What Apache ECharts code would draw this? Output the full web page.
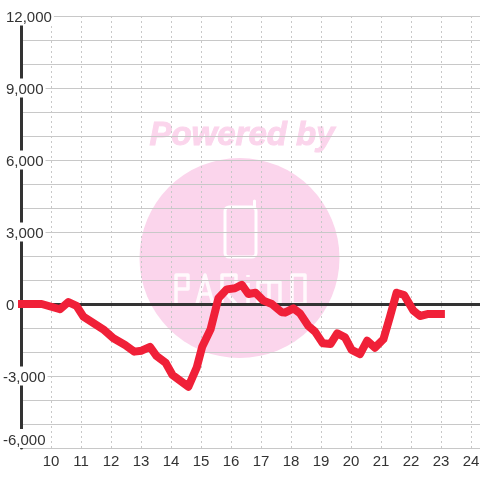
<!DOCTYPE html>
<html><head><meta charset="utf-8">
<style>html,body{margin:0;padding:0;background:#fff}#c{width:480px;height:480px}</style>
<script src="https://cdn.jsdelivr.net/npm/echarts@6/dist/echarts.min.js"></script>
</head><body><div id="c"></div>
<script>
var hours=[8.9,9.69,10.3,10.58,10.85,11.08,11.74,12.08,12.47,12.78,13.02,13.3,13.52,13.82,14.05,14.58,14.86,15.04,15.32,15.58,15.86,16.13,16.36,16.58,16.82,17.08,17.36,17.69,17.8,18.08,18.3,18.58,18.8,19.06,19.32,19.54,19.8,20.02,20.3,20.54,20.8,21.08,21.3,21.52,21.77,22.08,22.3,22.58,23.13];
var values=[0,0,-220,80,-80,-530,-1055,-1430,-1710,-1985,-1945,-1790,-2170,-2445,-2960,-3445,-2640,-1780,-1055,240,610,655,800,415,470,140,0,-345,-360,-180,-390,-915,-1150,-1640,-1665,-1220,-1390,-1915,-2085,-1530,-1820,-1470,-530,470,375,-280,-500,-415,-415];
var watermarkTitle='Powered by';
var pink='#fbd5ec';
var letters=[
 [[176,304],[176,275],[188,275],[188,289],[176,289]],
 [[197,304],[205,275],[213,304]],[[200,294],[210,294]],
 [[222,304],[222,275],[236,275],[236,288],[222,288],[236,304]],
 [[248,304],[248,283]],[[248,275],[248,277]],
 [[258,304],[258,282],[280,282],[280,304]],[[269,282],[269,304]],
 [[292,304],[292,275],[305,275],[305,304],[292,304]]
];
var chart=echarts.init(document.getElementById('c'),null,{renderer:'canvas'});
chart.setOption({
 animation:false,backgroundColor:'#fff',
 grid:{left:21,top:16,width:459,height:432,containLabel:false,outerBoundsMode:'none'},
 graphic:{elements:[
  {type:'circle',z:-10,silent:true,shape:{cx:239.5,cy:258,r:100},style:{fill:pink}},
  {type:'text',z:-10,silent:true,x:242,y:135.5,style:{text:watermarkTitle,fill:pink,stroke:pink,lineWidth:1,font:'italic bold 33px "Liberation Sans"',align:'center',verticalAlign:'middle'}},
  {type:'rect',z:-9,silent:true,shape:{x:225,y:207,width:31,height:50,r:4},style:{fill:'transparent',stroke:'#fff',lineWidth:3}},
  {type:'line',z:-9,silent:true,shape:{x1:254.5,y1:201,x2:254.5,y2:208},style:{stroke:'#fff',lineWidth:3,lineCap:'round'}}
 ].concat(letters.map(function(p){return {type:'polyline',z:-9,silent:true,shape:{points:p},style:{fill:'transparent',stroke:'#fff',opacity:0.85,lineWidth:3.5,lineJoin:'round'}};}))},
 xAxis:{
  type:'value',min:9,max:24.3,interval:1,
  axisLine:{show:false},axisTick:{show:false},
  splitLine:{show:true,lineStyle:{color:'#c8c8c8',width:1,type:[2,3]}},
  axisLabel:{color:'#333',fontSize:15,fontFamily:'"Liberation Sans"',margin:6,showMinLabel:false,showMaxLabel:false}
 },
 yAxis:{
  type:'value',min:-6000,max:12000,interval:1000,
  axisLine:{show:true,onZero:false,lineStyle:{color:'#333',width:3}},
  axisTick:{show:false},
  splitLine:{show:true,lineStyle:{color:'#c8c8c8',width:1}},
  axisLabel:{inside:true,margin:-18,align:'left',color:'#333',fontSize:15,fontFamily:'"Liberation Sans"',
   backgroundColor:'#fff',padding:[4,2,0,0],verticalAlignMinLabel:'bottom',
   formatter:function(v){
    if(v%3000!==0)return '';
    var s=Math.abs(v).toLocaleString('en-US');
    return v<0?'-'+s:'{p|'+s+'}';
   },
   rich:{p:{padding:[0,0,0,3],color:'#333',fontSize:15,fontFamily:'"Liberation Sans"'}}
  }
 },
 series:[{
  type:'line',data:hours.map(function(h,i){return [h,values[i]];}),
  clip:false,symbol:'none',smooth:false,z:5,
  lineStyle:{color:'#f02038',width:8,join:'round',cap:'butt'},
  markLine:{silent:true,z:2,symbol:'none',label:{show:false},animation:false,
   lineStyle:{color:'#333',width:3,type:'solid'},data:[{yAxis:0}]}
 }]
});
</script></body></html>
